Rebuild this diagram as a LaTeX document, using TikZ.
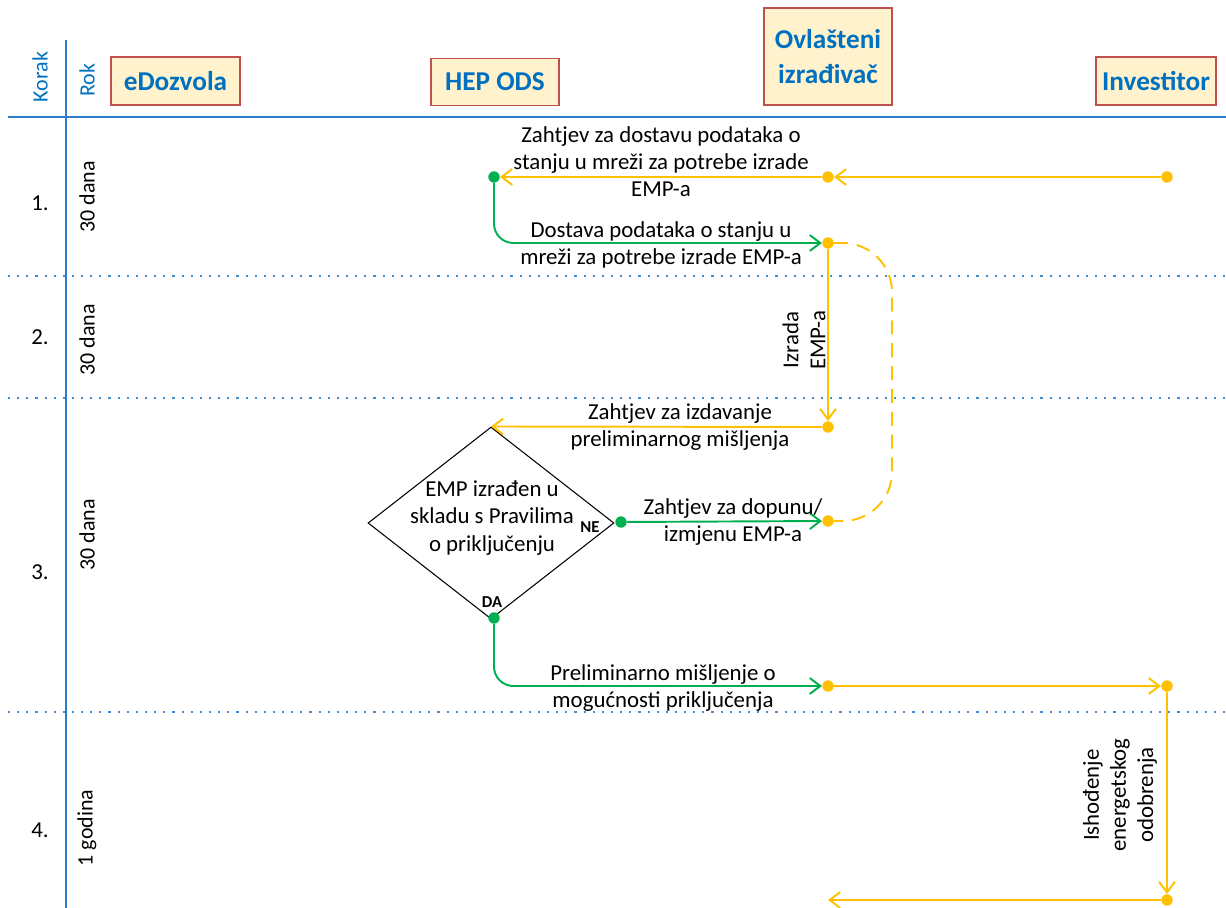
\documentclass[tikz,border=0pt]{standalone}
\usepackage{fontspec}
\setmainfont{Carlito}
\usetikzlibrary{arrows.meta,shapes.geometric}
\definecolor{laneblue}{HTML}{0070C0}
\definecolor{ruleblue}{HTML}{2E7BCF}
\definecolor{sepblue}{HTML}{3C8FD8}
\definecolor{lanefill}{HTML}{FFF2CC}
\definecolor{laneline}{HTML}{C0504D}
\definecolor{flowy}{HTML}{FFC000}
\definecolor{flowg}{HTML}{00B050}
\tikzset{
  lane/.style={draw=laneline, line width=1.1pt, fill=lanefill, text=laneblue,
    font=\fontsize{15.5}{19.5}\selectfont\bfseries, align=center, inner sep=0pt},
  txt/.style={font=\fontsize{13}{15.4}\selectfont, align=center, inner sep=0pt},
  side/.style={font=\fontsize{12.5}{15}\selectfont, inner sep=0pt, rotate=90},
  sep/.style={sepblue, line width=1.1pt, dash pattern=on 1.2pt off 4pt},
  yline/.style={draw=flowy, line width=1.1pt},
  gline/.style={draw=flowg, line width=1.1pt},
  tip/.style={-{Straight Barb[length=6pt,width=9pt]}},
  ydot/.style={circle, fill=flowy, inner sep=0pt, minimum size=6.5pt},
  gdot/.style={circle, fill=flowg, inner sep=0pt, minimum size=6.5pt}
}
\begin{document}
\begin{tikzpicture}[x=0.02cm,y=-0.02cm]
\useasboundingbox (0,0) rectangle (1226,908);
% grid of the chart
\draw [ruleblue, line width=1.2pt] (66,40) -- (66,908);
\draw [ruleblue, line width=1.2pt] (8,117) -- (1226,117);
\draw [sep] (8,276) -- (1226,276);
\draw [sep] (8,398) -- (1226,398);
\draw [sep] (8,712) -- (1226,712);
\node [side, text=laneblue] (korak) at (40,77) {Korak};
\node [side, text=laneblue] (rok) at (87,80) {Rok};
% lanes
\node [lane, minimum width=2.58cm, minimum height=0.96cm] (edoz) at (175.5,81) {eDozvola};
\node [lane, minimum width=2.56cm, minimum height=0.94cm] (hep) at (495,82) {HEP ODS};
\node [lane, minimum width=2.56cm, minimum height=1.94cm] (ovl) at (828,56.5) {Ovlašteni\\izrađivač};
\node [lane, minimum width=2.40cm, minimum height=0.96cm] (inv) at (1156,81) {Investitor};
% steps and deadlines
\node [txt] (k1) at (40,203) {1.};
\node [txt] (k2) at (40,337) {2.};
\node [txt] (k3) at (40,572) {3.};
\node [txt] (k4) at (40,830) {4.};
\node [side] (r1) at (87,197) {30 dana};
\node [side] (r2) at (87,340) {30 dana};
\node [side] (r3) at (87,535) {30 dana};
\node [side] (r4) at (87,828) {1 godina};
% dots
\node [ydot] (inv1) at (1167,177) {};
\node [ydot] (ov1) at (828,177) {};
\node [gdot] (hep1) at (494,177) {};
\node [ydot] (ov2) at (828,243) {};
\node [ydot] (ov4) at (828,427) {};
\node [ydot] (ov5) at (828,521) {};
\node [ydot] (ov6) at (828,686) {};
\node [ydot] (inv2) at (1167,686) {};
\node [ydot] (inv3) at (1167,900) {};
\coordinate (kraj) at (828,900);
\coordinate (povrat) at (892,380);
% decision
\node [diamond, draw, line width=0.6pt, minimum width=4.92cm, minimum height=3.84cm, inner sep=0pt] (uvjet) at (491,523) {};
\node [txt] (uvjettxt) at (492,518) {EMP izrađen u\\skladu s Pravilima\\o priključenju};
\node [gdot] (ne) at (621,522) {};
\node [gdot] (da) at (494,618) {};
\node [font=\fontsize{9.5}{11}\selectfont\bfseries, inner sep=0pt] (netxt) at (590,527) {NE};
\node [font=\fontsize{9.5}{11}\selectfont\bfseries, inner sep=0pt] (datxt) at (492,602) {DA};
% connectors
\draw [yline, tip] (inv1) -- (ov1);
\draw [yline, tip] (ov1) -- (hep1);
\draw [gline, tip, rounded corners=11pt] (hep1) |- (ov2);
\draw [yline, tip] (ov2) -- (ov4);
\draw [yline, dash pattern=on 8pt off 5pt, rounded corners=28pt] (ov2) -| (povrat) |- (ov5);
\draw [yline, tip] (ov4) -- (uvjet.north);
\draw [gline, tip] (ne) -- (ov5);
\draw [gline, tip, rounded corners=11pt] (da) |- (ov6);
\draw [yline, tip] (ov6) -- (inv2);
\draw [yline, tip] (inv2) -- (inv3);
\draw [yline, tip] (inv3) -- (kraj);
% labels
\node [txt] (l1) at (661,162) {Zahtjev za dostavu podataka o\\stanju u mreži za potrebe izrade\\EMP-a};
\node [txt] (l2) at (661,245) {Dostava podataka o stanju u\\mreži za potrebe izrade EMP-a};
\node [txt, rotate=90] (l3) at (804,340) {Izrada\\EMP-a};
\node [txt] (l4) at (680,427) {Zahtjev za izdavanje\\preliminarnog mišljenja};
\node [txt] (l5) at (733,522) {Zahtjev za dopunu/\\izmjenu EMP-a};
\node [txt] (l6) at (663,688) {Preliminarno mišljenje o\\mogućnosti priključenja};
\node [txt, rotate=90] (l7) at (1120,795) {Ishođenje\\energetskog\\odobrenja};
\end{tikzpicture}
\end{document}
